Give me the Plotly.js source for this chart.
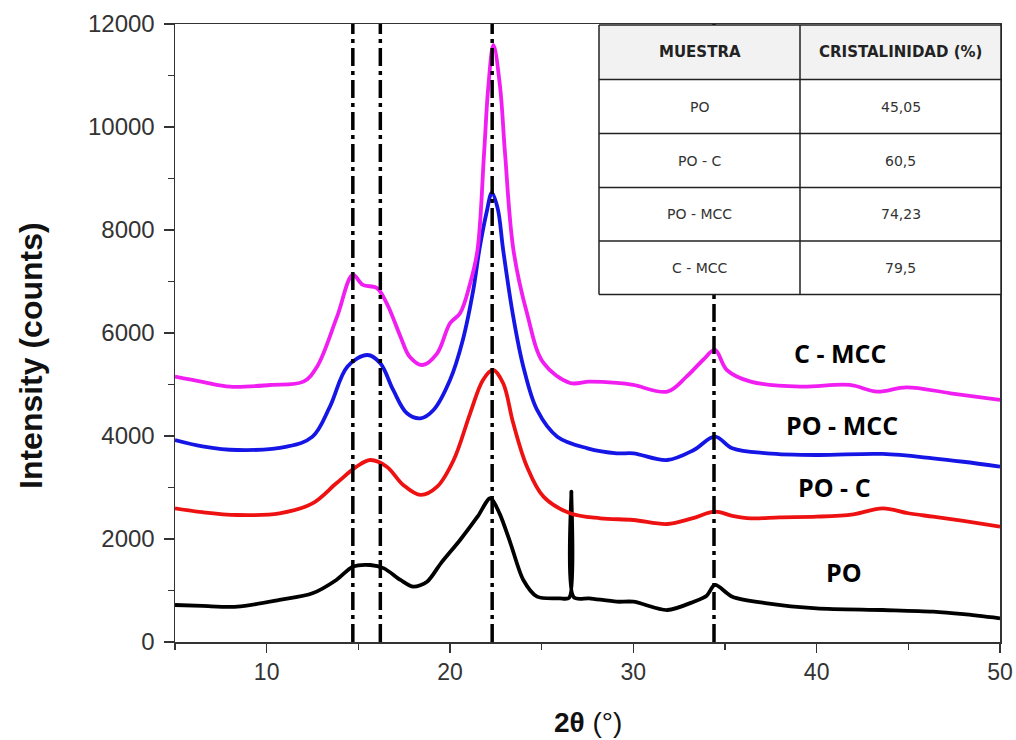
<!DOCTYPE html>
<html>
<head>
<meta charset="utf-8">
<script src="https://cdn.plot.ly/plotly-3.0.1.min.js"></script>
<style>html,body{margin:0;padding:0;background:#fff;}#chart{width:1016px;height:740px;}</style>
</head>
<body>
<div id="chart"></div>
<script>
// ---- Data ----
const seriesNames = ["PO", "PO - C", "PO - MCC", "C - MCC"];

const poX = [5, 6.5, 8.4, 10.7, 12.5, 13.8, 14.7, 15.65, 16.4, 17.3, 18.0, 18.75, 19.5, 20.55, 21.5, 22.2, 22.7, 23.3, 24.0, 24.75, 26.0, 26.5, 26.62, 26.75, 27.6, 29.1, 30.0, 31.85, 33.3, 34.0, 34.45, 35.4, 37.3, 40.0, 43.6, 46.35, 48, 50];
const poY = [718, 700, 686, 816, 945, 1204, 1462, 1495, 1430, 1204, 1074, 1171, 1528, 1981, 2433, 2791, 2499, 1917, 1204, 880, 848, 860, 2919, 870, 848, 783, 783, 621, 783, 900, 1107, 880, 751, 654, 621, 589, 540, 460];

const pocX = [5, 6.5, 8.4, 10.7, 12.5, 13.8, 14.9, 15.65, 16.55, 17.45, 18.4, 19.3, 20.2, 21.1, 21.8, 22.35, 22.9, 23.45, 24.2, 25.1, 26.55, 28.2, 30.0, 31.85, 33.2, 34.45, 35.4, 36.4, 38, 40.0, 42, 43.6, 45, 46.35, 48, 50];
const pocY = [2596, 2520, 2466, 2499, 2693, 3082, 3404, 3534, 3404, 3049, 2855, 3016, 3534, 4441, 5088, 5282, 5024, 4247, 3404, 2822, 2499, 2402, 2369, 2291, 2400, 2531, 2450, 2402, 2420, 2433, 2480, 2596, 2500, 2433, 2350, 2239];

const pomccX = [5, 6.5, 8.4, 11.1, 12.5, 13.45, 14.4, 15.5, 16.2, 16.9, 17.65, 18.4, 19.1, 20.0, 20.7, 21.27, 21.6, 22.0, 22.28, 22.6, 22.9, 23.45, 24.0, 24.75, 25.85, 27.5, 29.1, 30.0, 31.85, 33.3, 34.45, 35.4, 37.3, 40.0, 43.6, 46.35, 48, 50];
const pomccY = [3923, 3800, 3728, 3793, 3987, 4570, 5346, 5573, 5412, 4894, 4441, 4344, 4505, 5088, 5865, 6836, 7613, 8350, 8720, 8420, 7613, 6317, 5346, 4505, 3987, 3761, 3664, 3664, 3534, 3728, 3987, 3761, 3664, 3631, 3651, 3567, 3500, 3404];

const cmccX = [5, 6.5, 8.0, 10.2, 12.0, 12.75, 13.84, 14.7, 15.25, 16.0, 16.55, 17.3, 17.8, 18.5, 19.3, 20.0, 20.55, 21.1, 21.5, 21.86, 22.09, 22.37, 22.73, 23.0, 23.46, 24.2, 25.1, 26.55, 27.6, 29.1, 30.0, 31.85, 32.9, 33.8, 34.45, 35.1, 36.4, 39.1, 41.8, 43.3, 44.9, 47.3, 50];
const cmccY = [5152, 5050, 4958, 4990, 5055, 5346, 6317, 7127, 6933, 6875, 6577, 5929, 5540, 5379, 5606, 6189, 6383, 6966, 7613, 9496, 10784, 11594, 10784, 9496, 7613, 6383, 5418, 5030, 5055, 5030, 4991, 4861, 5152, 5476, 5671, 5282, 5055, 4958, 4991, 4861, 4946, 4830, 4700];

const peakPositions = [14.7, 16.2, 22.3, 34.4];

const tableHeader = ["MUESTRA", "CRISTALINIDAD (%)"];
const tableSamples = ["PO", "PO - C", "PO - MCC", "C - MCC"];
const tableCrystallinity = ["45,05", "60,5", "74,23", "79,5"];

const xTickVals = [10, 20, 30, 40, 50];
const yTickVals = [0, 2000, 4000, 6000, 8000, 10000, 12000];

// ---- Figure ----
const colors = ["#000000", "#ee1111", "#1515e6", "#f01ef0"];
const xs = [poX, pocX, pomccX, cmccX];
const ys = [poY, pocY, pomccY, cmccY];

const traces = seriesNames.map((n, i) => ({
  type: "scatter", mode: "lines", name: n,
  x: xs[i], y: ys[i],
  line: {color: colors[i], width: 3.8, shape: "spline", smoothing: i === 0 ? 0.8 : 1.0},
  showlegend: false, hoverinfo: "x+y"
}));

const W = 1016, H = 740, ML = 175, MR = 16, MT = 24, MB = 98;
const PW = W - ML - MR, PH = H - MT - MB;
const px = v => (v - ML) / PW;
const py = v => (H - MB - v) / PH;

const shapes = [];
peakPositions.forEach(p => shapes.push({
  type: "line", xref: "x", yref: "paper", x0: p, x1: p, y0: 0, y1: 1,
  line: {color: "#000", width: 3.5, dash: "18px,5px,4px,5px"}, layer: "above"
}));

// table
const tL = 599, tM = 800, tR = 1001, rows = [25, 79.5, 133.5, 187.5, 241, 294.5];
shapes.push({type: "rect", xref: "paper", yref: "paper", x0: px(tL), x1: px(tR), y0: py(rows[5]), y1: py(rows[0]),
  fillcolor: "#ffffff", line: {width: 0}, layer: "above"});
shapes.push({type: "rect", xref: "paper", yref: "paper", x0: px(tL), x1: px(tR), y0: py(rows[1]), y1: py(rows[0]),
  fillcolor: "#f2f2f2", line: {width: 0}, layer: "above"});
for (let i = 0; i < rows.length; i++) {
  shapes.push({type: "line", xref: "paper", yref: "paper", x0: px(tL), x1: px(tR), y0: py(rows[i]), y1: py(rows[i]),
    line: {color: "#222", width: 1.5}, layer: "above"});
}
[tL, tM, tR].forEach(c => shapes.push({type: "line", xref: "paper", yref: "paper", x0: px(c), x1: px(c), y0: py(rows[5]), y1: py(rows[0]),
  line: {color: "#222", width: 1.5}, layer: "above"}));

const annotations = [];
const colCenters = [(tL + tM) / 2, (tM + tR) / 2];
tableHeader.forEach((t, j) => annotations.push({
  xref: "paper", yref: "paper", x: px(colCenters[j]), y: py((rows[0] + rows[1]) / 2),
  text: "<b>" + t + "</b>", showarrow: false, xanchor: "center", yanchor: "middle",
  font: {family: "DejaVu Sans, sans-serif", size: 15, color: "#222"}
}));
tableSamples.forEach((s, i) => {
  const yc = py((rows[i + 1] + rows[i + 2]) / 2);
  annotations.push({xref: "paper", yref: "paper", x: px(colCenters[0]), y: yc, text: s, showarrow: false,
    xanchor: "center", yanchor: "middle", font: {family: "DejaVu Sans, sans-serif", size: 14, color: "#333"}});
  annotations.push({xref: "paper", yref: "paper", x: px(colCenters[1]), y: yc, text: tableCrystallinity[i], showarrow: false,
    xanchor: "center", yanchor: "middle", font: {family: "DejaVu Sans, sans-serif", size: 14, color: "#333"}});
});

// curve labels
const labelPix = [[844, 572], [834, 487], [842, 425], [840, 353]];
seriesNames.forEach((n, i) => annotations.push({
  xref: "paper", yref: "paper", x: px(labelPix[i][0]), y: py(labelPix[i][1]),
  text: "<b>" + n + "</b>", showarrow: false, xanchor: "center", yanchor: "middle",
  bgcolor: "#ffffff",
  font: {family: "Open Sans, sans-serif", size: 25, color: "#000"}
}));

// axis titles
annotations.push({xref: "paper", yref: "paper", x: px(588), y: py(722), showarrow: false,
  xanchor: "center", yanchor: "middle", text: "<b>2θ</b> (°)",
  font: {family: "Liberation Sans, Arial, sans-serif", size: 28, color: "#111"}});
annotations.push({xref: "paper", yref: "paper", x: px(31), y: py(356), showarrow: false,
  xanchor: "center", yanchor: "middle", textangle: -90, text: "<b>Intensity (counts)</b>",
  font: {family: "Liberation Sans, Arial, sans-serif", size: 32, color: "#111"}});

const layout = {
  width: W, height: H,
  margin: {l: ML, r: MR, t: MT, b: MB},
  paper_bgcolor: "#ffffff", plot_bgcolor: "#ffffff",
  showlegend: false,
  xaxis: {
    range: [5, 50], tickvals: xTickVals, ticktext: xTickVals.map(String),
    showgrid: false, zeroline: false,
    showline: true, linecolor: "#333", linewidth: 1.5, mirror: true,
    ticks: "outside", ticklen: 9, tickwidth: 1.5, tickcolor: "#333",
    minor: {dtick: 5, tick0: 5, ticks: "outside", ticklen: 6, tickwidth: 1.5, tickcolor: "#333", showgrid: false},
    tickfont: {family: "Liberation Sans, Arial, sans-serif", size: 23, color: "#333"}
  },
  yaxis: {
    range: [0, 12000], tickvals: yTickVals, ticktext: yTickVals.map(String),
    showgrid: false, zeroline: false,
    showline: true, linecolor: "#333", linewidth: 1.5, mirror: true,
    ticks: "outside", ticklen: 10, tickwidth: 1.5, tickcolor: "#333",
    minor: {dtick: 1000, tick0: 0, ticks: "outside", ticklen: 6, tickwidth: 1.5, tickcolor: "#333", showgrid: false},
    ticklabelstandoff: 4,
    tickfont: {family: "Liberation Sans, Arial, sans-serif", size: 24, color: "#333"}
  },
  shapes: shapes,
  annotations: annotations
};

Plotly.newPlot("chart", traces, layout, {displayModeBar: false, staticPlot: true});
</script>
</body>
</html>
